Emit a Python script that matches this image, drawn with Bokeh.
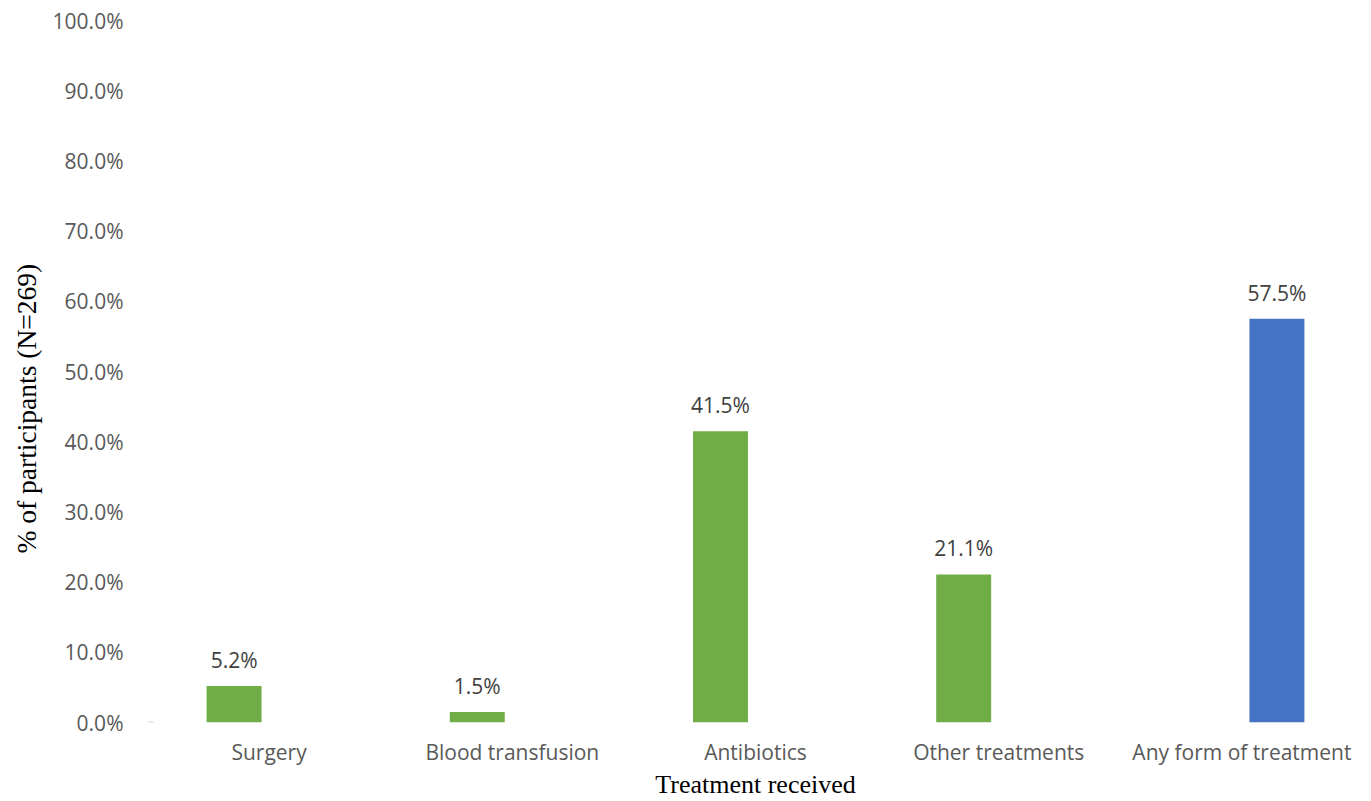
from bokeh.plotting import figure
from bokeh.models import (ColumnDataSource, FactorRange, Range1d, FixedTicker,
                          PrintfTickFormatter, LabelSet, Title)
from bokeh.core.properties import value
from bokeh.transform import dodge
from bokeh.embed import file_html
from bokeh.resources import INLINE

# Share of participants receiving each treatment (%)
categories = ["Surgery", "Blood transfusion", "Antibiotics",
              "Other treatments", "Any form of treatment"]
specific_pct = [5.2, 1.5, 41.5, 21.1]          # individual treatments
specific_cats = categories[:4]
any_pct = [57.5]                               # any form of treatment
any_cats = categories[4:]
y_ticks = list(range(0, 101, 10))

GREEN = "#70AD47"
BLUE = "#4472C4"
SANS = "Open Sans"
SERIF = "Liberation Serif"

src_specific = ColumnDataSource(dict(
    cat=specific_cats, val=specific_pct,
    lbl=[f"{v:.1f}%" for v in specific_pct]))
src_any = ColumnDataSource(dict(
    cat=any_cats, val=any_pct,
    lbl=[f"{v:.1f}%" for v in any_pct]))

p = figure(width=1371, height=801,
           x_range=FactorRange(*categories, range_padding=0),
           y_range=Range1d(0, 100),
           output_backend="svg", toolbar_location=None,
           min_border_left=147, min_border_right=8,
           min_border_top=20, min_border_bottom=79)

BAR_W = 0.226
OFFSET = 0.144
p.vbar(x=dodge("cat", -OFFSET, range=p.x_range), top="val", width=BAR_W,
       source=src_specific, fill_color=GREEN, line_color=None)
p.vbar(x=dodge("cat", OFFSET, range=p.x_range), top="val", width=BAR_W,
       source=src_any, fill_color=BLUE, line_color=None)

# short stub of the baseline at the origin
stub = ColumnDataSource(dict(cat=categories[:1], y=[0]))
p.segment(x0=dodge("cat", -0.5, range=p.x_range),
          x1=dodge("cat", -0.475, range=p.x_range),
          y0="y", y1="y", source=stub, line_color="#d9d9d9", line_width=2)

label_style = dict(y="val", text="lbl", y_offset=18, text_align="center",
                   text_baseline="alphabetic", text_font=value(SANS),
                   text_font_size="21px", text_color="#404040")
p.add_layout(LabelSet(x=dodge("cat", -OFFSET, range=p.x_range),
                      source=src_specific, **label_style))
p.add_layout(LabelSet(x=dodge("cat", OFFSET, range=p.x_range),
                      source=src_any, **label_style))

p.outline_line_color = None
p.xgrid.grid_line_color = None
p.ygrid.grid_line_color = None

for ax in (p.xaxis[0], p.yaxis[0]):
    ax.axis_line_color = None
    ax.major_tick_line_color = None
    ax.minor_tick_line_color = None
    ax.major_label_text_font = SANS
    ax.major_label_text_font_size = "21px"
    ax.major_label_text_color = "#595959"

p.yaxis.ticker = FixedTicker(ticks=y_ticks)
p.yaxis.formatter = PrintfTickFormatter(format="%.1f%%")
p.yaxis.major_label_standoff = 18

p.xaxis.major_label_standoff = 9
p.xaxis.axis_label = "Treatment received"
p.xaxis.axis_label_standoff = 1
p.xaxis.axis_label_text_font = SERIF
p.xaxis.axis_label_text_font_size = "26px"
p.xaxis.axis_label_text_font_style = "normal"
p.xaxis.axis_label_text_color = "#000000"

# vertical title, starting a little above the bottom of the value axis
p.add_layout(Title(text="% of participants (N=269)", align="left",
                   offset=169, standoff=16, text_font=SERIF,
                   text_font_size="27.5px", text_font_style="normal",
                   text_color="#000000"), "left")

open("out.html", "w").write(file_html(p, INLINE))
